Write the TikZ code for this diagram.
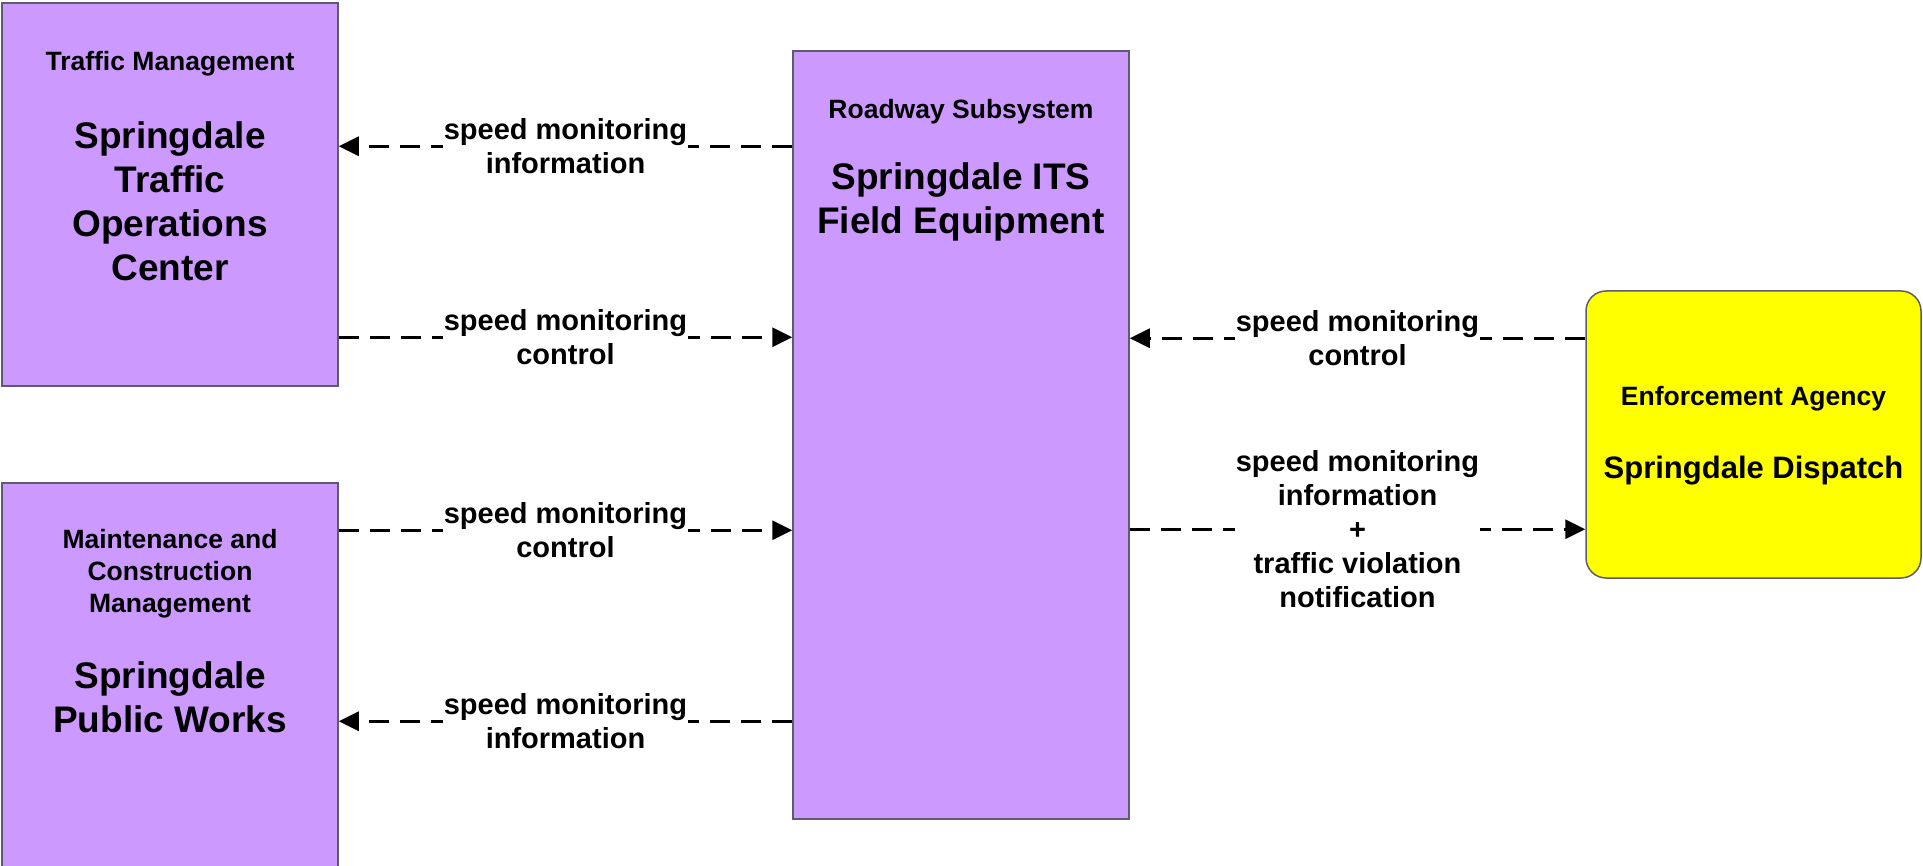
\documentclass[tikz,border=0pt]{standalone}
\usepackage{fontspec}
\setmainfont{Liberation Sans}
\usetikzlibrary{positioning,arrows.meta}
\definecolor{subcol}{RGB}{204,153,255}
\definecolor{termcol}{RGB}{255,255,0}
\definecolor{edgecol}{RGB}{95,90,110}

\begin{document}
\begin{tikzpicture}[x=1pt, y=-1pt,
  box/.style={rectangle, draw=edgecol, line width=1.5pt, fill=#1, inner sep=0pt},
  ttl/.style={font=\fontsize{26.5}{32}\selectfont\bfseries, align=center},
  nm/.style={font=\fontsize{37}{44}\selectfont\bfseries, align=center},
  ar/.style={-{Triangle[length=20pt,width=19pt]}, line width=3pt,
             dash pattern=on 20pt off 11pt},
  lb/.style={font=\fontsize{29}{34}\selectfont\bfseries, align=center,
             fill=white, inner sep=1pt}
]
\useasboundingbox (0,0) rectangle (1923,866);

% subsystems and terminators
\node[box=subcol, minimum width=336pt, minimum height=383pt] (tmc) at (170,194.5) {};
\node[box=subcol, minimum width=336pt, minimum height=407pt] (mcm) at (170,686.5) {};
\node[box=subcol, minimum width=336pt, minimum height=768pt] (rs)  at (961,435) {};
\node[box=termcol, minimum width=335pt, minimum height=287pt,
      rounded corners=20pt] (enf) at (1753.5,434.5) {};

\node[ttl] (tmcT) at (170,64)  {Traffic Management};
\node[nm]  (tmcN) at (170,201) {Springdale\\Traffic\\Operations\\Center};
\node[ttl] (mcmT) at (170,574) {Maintenance and\\Construction\\Management};
\node[nm]  (mcmN) at (170,697) {Springdale\\Public Works};
\node[ttl] (rsT)  at (961,112) {Roadway Subsystem};
\node[nm]  (rsN)  at (961,202) {Springdale ITS\\Field Equipment};
\node[ttl] (enfT) at (1753.5,399) {Enforcement Agency};
\node[nm, font=\fontsize{31}{37}\selectfont\bfseries]
           (enfN) at (1753.5,471) {Springdale Dispatch};

% flows
\draw[ar] ([yshift=-96pt]rs.north west) --
    node[lb] {speed monitoring\\information} ([yshift=-144pt]tmc.north east);
\draw[ar] ([yshift=-335pt]tmc.north east) --
    node[lb] {speed monitoring\\control} ([yshift=-287pt]rs.north west);
\draw[ar] ([yshift=-48pt]mcm.north east) --
    node[lb] {speed monitoring\\control} ([yshift=-480pt]rs.north west);
\draw[ar] ([yshift=-671pt]rs.north west) --
    node[lb] {speed monitoring\\information} ([yshift=-239pt]mcm.north east);
\draw[ar] ([yshift=-48pt]enf.north west) --
    node[lb] {speed monitoring\\control} ([yshift=-288pt]rs.north east);
\draw[ar] ([yshift=-479pt]rs.north east) --
    node[lb] {speed monitoring\\information\\+\\traffic violation\\notification}
    ([yshift=-239pt]enf.north west);
\end{tikzpicture}
\end{document}
